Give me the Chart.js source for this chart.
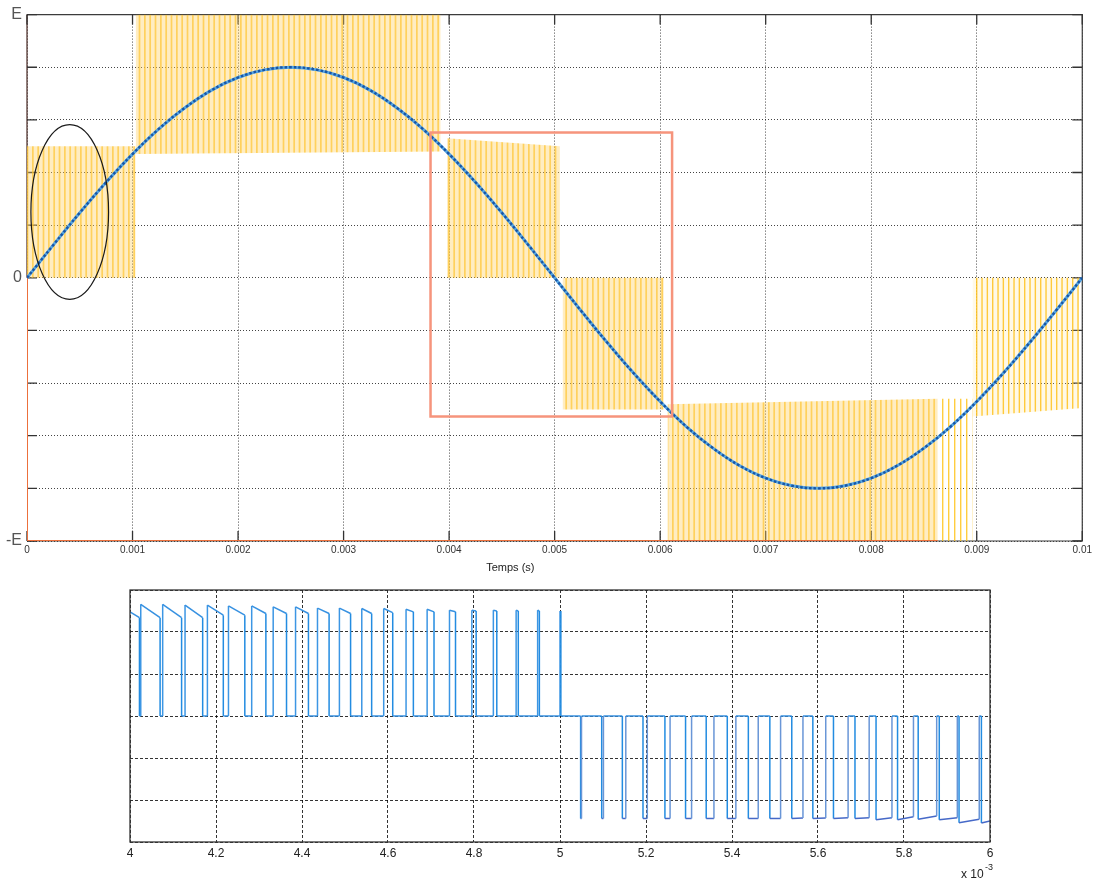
<!DOCTYPE html>
<html>
<head>
<meta charset="utf-8">
<script src="https://cdn.jsdelivr.net/npm/chart.js@4.4.1/dist/chart.umd.min.js"></script>
<style>
body { margin: 0; background: #fff; width: 1095px; height: 879px; position: relative; overflow: hidden; }
#topChart { position: absolute; left: 0; top: 0; }
#bottomChart { position: absolute; left: 0; top: 580px; }
</style>
</head>
<body>
<canvas id="topChart" width="1095" height="580"></canvas>
<canvas id="bottomChart" width="1095" height="299"></canvas>
<script>
// ---- top plot : sine reference and multilevel PWM (units of E) ----
var topXTicks = [0, 0.001, 0.002, 0.003, 0.004, 0.005, 0.006, 0.007, 0.008, 0.009, 0.01];
var topXLabels = ['0', '0.001', '0.002', '0.003', '0.004', '0.005', '0.006', '0.007', '0.008', '0.009', '0.01'];
var topYTicks = [-1, -0.8, -0.6, -0.4, -0.2, 0, 0.2, 0.4, 0.6, 0.8, 1];
var topYLabels = ['-E', '', '', '', '', '0', '', '', '', '', 'E'];

var sineT = [0, 0.00025, 0.0005, 0.00075, 0.001, 0.00125, 0.0015, 0.00175, 0.002, 0.00225,
  0.0025, 0.00275, 0.003, 0.00325, 0.0035, 0.00375, 0.004, 0.00425, 0.0045, 0.00475,
  0.005, 0.00525, 0.0055, 0.00575, 0.006, 0.00625, 0.0065, 0.00675, 0.007, 0.00725,
  0.0075, 0.00775, 0.008, 0.00825, 0.0085, 0.00875, 0.009, 0.00925, 0.0095, 0.00975, 0.01];
var sineV = [0, 0.125, 0.247, 0.363, 0.47, 0.566, 0.647, 0.713, 0.761, 0.79,
  0.8, 0.79, 0.761, 0.713, 0.647, 0.566, 0.47, 0.363, 0.247, 0.125,
  0, -0.125, -0.247, -0.363, -0.47, -0.566, -0.647, -0.713, -0.761, -0.79,
  -0.8, -0.79, -0.761, -0.713, -0.647, -0.566, -0.47, -0.363, -0.247, -0.125, 0];

// switching bands of the PWM: start/end time, low and high level at start (A) and end (B)
var bandStart = [0, 0.00103, 0.00398, 0.005075, 0.00607, 0.00863, 0.00896];
var bandEnd   = [0.00103, 0.00392, 0.00505, 0.006035, 0.00863, 0.00896, 0.00997];
var bandLowA  = [0, 0.47, 0, -0.5, -1, -1, -0.527];
var bandLowB  = [0, 0.48, 0, -0.5, -1, -1, -0.496];
var bandHighA = [0.5, 1, 0.53, 0, -0.48, -0.46, 0];
var bandHighB = [0.5, 1, 0.5, 0, -0.46, -0.46, 0];

// second leg trace sitting on -E
var legT = [0, 0, 0.00863];
var legV = [0, -1, -1];

// annotations (data units)
var ellipseC = [0.000405, 0.25];
var ellipseR = [0.000368, 0.332];
var boxX = [0.003824, 0.006113];
var boxY = [0.552, -0.527];

// ---- bottom plot : zoom 4..6 (x 10^-3) ----
var botXTicks = [4, 4.2, 4.4, 4.6, 4.8, 5, 5.2, 5.4, 5.6, 5.8, 6];
var botXLabels = ['4', '4.2', '4.4', '4.6', '4.8', '5', '5.2', '5.4', '5.6', '5.8', '6'];
var botYTicks = [-3, -2, -1, 0, 1, 2, 3];

var posRise = [4.0, 4.025, 4.076, 4.128, 4.180, 4.229, 4.283, 4.333, 4.385, 4.436, 4.487,
  4.539, 4.590, 4.642, 4.691, 4.743, 4.795, 4.845, 4.898, 4.948, 5.000];
var posFall = [4.022, 4.070, 4.120, 4.169, 4.217, 4.267, 4.316, 4.364, 4.415, 4.463, 4.513,
  4.562, 4.611, 4.659, 4.707, 4.757, 4.805, 4.853, 4.903, 4.952, 5.002];
var posTopA = [2.48, 2.66, 2.66, 2.64, 2.64, 2.62, 2.62, 2.60, 2.60, 2.57, 2.57,
  2.56, 2.56, 2.54, 2.54, 2.52, 2.52, 2.52, 2.52, 2.52, 2.50];
var posTopB = [2.34, 2.34, 2.34, 2.34, 2.40, 2.40, 2.44, 2.44, 2.44, 2.44, 2.44,
  2.44, 2.46, 2.48, 2.48, 2.48, 2.50, 2.50, 2.50, 2.50, 2.50];

var negFall = [5.048, 5.097, 5.145, 5.193, 5.244, 5.292, 5.340, 5.389, 5.438, 5.488,
  5.539, 5.588, 5.636, 5.686, 5.735, 5.785, 5.833, 5.882, 5.928, 5.980];
var negRise = [5.050, 5.101, 5.153, 5.203, 5.256, 5.306, 5.358, 5.409, 5.461, 5.513,
  5.565, 5.618, 5.670, 5.719, 5.772, 5.822, 5.876, 5.924, 5.975];
var negBotA = [-2.44, -2.44, -2.44, -2.44, -2.44, -2.44, -2.44, -2.44, -2.44, -2.44,
  -2.44, -2.44, -2.44, -2.44, -2.47, -2.47, -2.46, -2.47, -2.54, -2.55];
var negBotB = [-2.44, -2.44, -2.44, -2.44, -2.44, -2.44, -2.44, -2.44, -2.44, -2.44,
  -2.43, -2.43, -2.42, -2.42, -2.42, -2.40, -2.38, -2.42, -2.46, -2.50];

var FONT = '"Liberation Sans", Arial, sans-serif';

function stripes(period, count, w, bg, fg) {
  var c = document.createElement('canvas');
  c.width = Math.round(period * count);
  c.height = 8;
  var g = c.getContext('2d');
  if (bg) { g.fillStyle = bg; g.fillRect(0, 0, c.width, c.height); }
  g.fillStyle = fg;
  for (var k = 0; k < count; k++) g.fillRect(k * period, 0, w, c.height);
  return g.createPattern(c, 'repeat');
}

var densePat = stripes(5.33, 3, 1.7, 'rgba(255,208,95,0.38)', 'rgba(255,196,45,0.68)');
var sparsePat = stripes(6, 2, 1.4, null, 'rgba(255,196,30,0.85)');
var lightPat = stripes(5.33, 3, 1.4, 'rgba(255,215,110,0.16)', 'rgba(255,194,30,0.85)');

function xy(xs, ys) {
  return xs.map(function (x, i) { return { x: x, y: ys[i] }; });
}

var topDatasets = [
  { data: xy(sineT, sineV), borderColor: 'rgb(25,85,165)', borderWidth: 2.4, borderDash: [2.5, 2],
    tension: 0.4, pointRadius: 0, order: 0 },
  { data: xy(sineT, sineV), borderColor: 'rgb(85,165,225)', borderWidth: 3,
    tension: 0.4, pointRadius: 0, order: 1 },
  { data: xy(legT, legV), borderColor: 'rgb(236,112,60)', borderWidth: 2, pointRadius: 0, order: 2 }
];
for (var b = 0; b < bandStart.length; b++) {
  var pat = b === 5 ? sparsePat : (b === 6 ? lightPat : densePat);
  topDatasets.push({
    data: [{ x: bandStart[b], y: bandHighA[b] }, { x: bandEnd[b], y: bandHighB[b] }],
    borderColor: 'rgba(0,0,0,0)', borderWidth: 0, pointRadius: 0,
    fill: '+1', backgroundColor: pat, order: 3
  });
  topDatasets.push({
    data: [{ x: bandStart[b], y: bandLowA[b] }, { x: bandEnd[b], y: bandLowB[b] }],
    borderColor: 'rgba(0,0,0,0)', borderWidth: 0, pointRadius: 0, fill: false, order: 3
  });
}

var topDecor = {
  id: 'topDecor',
  beforeDatasetsDraw: function (chart) {
    var ctx = chart.ctx, a = chart.chartArea, xs = chart.scales.x, ys = chart.scales.y;
    ctx.save();
    ctx.lineWidth = 1.2;
    ctx.strokeStyle = '#3c3c3c';
    ctx.beginPath();
    ctx.moveTo(a.left, a.top); ctx.lineTo(a.right, a.top); ctx.lineTo(a.right, a.bottom); ctx.lineTo(a.left, a.bottom);
    ctx.stroke();
    ctx.strokeStyle = '#4a2a25';
    ctx.beginPath();
    ctx.moveTo(a.left, a.top); ctx.lineTo(a.left, ys.getPixelForValue(0));
    ctx.stroke();
    ctx.strokeStyle = '#333';
    ctx.lineWidth = 1.3;
    ctx.beginPath();
    topXTicks.forEach(function (v) {
      var px = xs.getPixelForValue(v);
      ctx.moveTo(px, a.bottom); ctx.lineTo(px, a.bottom - 10);
      ctx.moveTo(px, a.top); ctx.lineTo(px, a.top + 10);
    });
    topYTicks.forEach(function (v) {
      var py = ys.getPixelForValue(v);
      ctx.moveTo(a.left, py); ctx.lineTo(a.left + 10, py);
      ctx.moveTo(a.right, py); ctx.lineTo(a.right - 10, py);
    });
    ctx.stroke();
    ctx.restore();
  },
  afterDatasetsDraw: function (chart) {
    var ctx = chart.ctx, a = chart.chartArea, xs = chart.scales.x, ys = chart.scales.y;
    ctx.save();
    var cx = xs.getPixelForValue(ellipseC[0]), cy = ys.getPixelForValue(ellipseC[1]);
    var rx = xs.getPixelForValue(ellipseC[0] + ellipseR[0]) - cx;
    var ry = cy - ys.getPixelForValue(ellipseC[1] + ellipseR[1]);
    ctx.strokeStyle = '#1a1a1a';
    ctx.lineWidth = 1.2;
    ctx.beginPath();
    ctx.ellipse(cx, cy, rx, ry, 0, 0, Math.PI * 2);
    ctx.stroke();
    var x0 = xs.getPixelForValue(boxX[0]), x1 = xs.getPixelForValue(boxX[1]);
    var y0 = ys.getPixelForValue(boxY[0]), y1 = ys.getPixelForValue(boxY[1]);
    ctx.strokeStyle = 'rgb(246,148,124)';
    ctx.lineWidth = 2.5;
    ctx.strokeRect(x0, y0, x1 - x0, y1 - y0);
    ctx.fillStyle = '#222';
    ctx.font = '11px ' + FONT;
    ctx.textAlign = 'center';
    ctx.textBaseline = 'middle';
    ctx.fillText('Temps (s)', a.left + (a.right - a.left) * 0.458, 568);
    ctx.restore();
  }
};

new Chart(document.getElementById('topChart'), {
  type: 'line',
  data: { datasets: topDatasets },
  options: {
    responsive: false,
    animation: false,
    layout: { autoPadding: false, padding: { top: 12, right: 8, left: 0, bottom: 0 } },
    plugins: { legend: { display: false }, tooltip: { enabled: false } },
    scales: {
      x: {
        type: 'linear', min: 0, max: 0.01,
        afterBuildTicks: function (s) { s.ticks = topXTicks.map(function (v) { return { value: v }; }); },
        afterFit: function (s) { s.height = 39; },
        ticks: {
          autoSkip: false, maxRotation: 0, padding: 3, color: '#333',
          font: { family: FONT, size: 10 },
          callback: function (v, i) { return topXLabels[i]; }
        },
        grid: { color: 'rgba(35,35,35,0.85)', lineWidth: 1, drawTicks: false },
        border: { display: false, dash: [1, 2] }
      },
      y: {
        type: 'linear', min: -1, max: 1,
        afterBuildTicks: function (s) { s.ticks = topYTicks.map(function (v) { return { value: v }; }); },
        afterFit: function (s) { s.width = 27; },
        ticks: {
          autoSkip: false, padding: 5, color: '#555',
          font: { family: FONT, size: 16 },
          callback: function (v, i) { return topYLabels[i]; }
        },
        grid: { color: 'rgba(35,35,35,0.85)', lineWidth: 1, drawTicks: false },
        border: { display: false, dash: [1, 2] }
      }
    }
  },
  plugins: [topDecor]
});

// ---- bottom trace points ----
var botPts = [];
for (var i = 0; i < posRise.length; i++) {
  if (i > 0) botPts.push({ x: posRise[i], y: 0 });
  botPts.push({ x: posRise[i], y: posTopA[i] });
  botPts.push({ x: posFall[i], y: posTopB[i] });
  botPts.push({ x: posFall[i], y: 0 });
}
for (var j = 0; j < negFall.length; j++) {
  botPts.push({ x: negFall[j], y: 0 });
  botPts.push({ x: negFall[j], y: negBotA[j] });
  if (j < negRise.length) {
    botPts.push({ x: negRise[j], y: negBotB[j] });
    botPts.push({ x: negRise[j], y: 0 });
  } else {
    botPts.push({ x: 6, y: negBotB[j] });
  }
}

var botDecor = {
  id: 'botDecor',
  afterDraw: function (chart) {
    var ctx = chart.ctx, a = chart.chartArea;
    ctx.save();
    ctx.strokeStyle = '#333';
    ctx.lineWidth = 1.3;
    ctx.strokeRect(a.left, a.top, a.right - a.left, a.bottom - a.top);
    ctx.fillStyle = '#222';
    ctx.textBaseline = 'alphabetic';
    ctx.textAlign = 'left';
    ctx.font = '12px ' + FONT;
    ctx.fillText('x 10', a.right - 29, a.bottom + 36);
    ctx.font = '9px ' + FONT;
    ctx.fillText('-3', a.right - 5, a.bottom + 28);
    ctx.restore();
  }
};

new Chart(document.getElementById('bottomChart'), {
  type: 'line',
  data: {
    datasets: [{
      data: botPts,
      borderWidth: 1.5,
      borderColor: 'rgb(50,145,225)',
      pointRadius: 0,
      segment: {
        borderColor: function (c) {
          var y0 = c.p0.parsed.y, y1 = c.p1.parsed.y;
          if (c.p0.parsed.x === c.p1.parsed.x) {
            if (y1 < y0) return 'rgb(35,140,225)';
            return y0 < 0 ? 'rgb(105,150,215)' : 'rgb(60,150,228)';
          }
          if (y0 < -0.5) return 'rgb(70,105,200)';
          return 'rgb(55,145,225)';
        }
      }
    }]
  },
  options: {
    responsive: false,
    animation: false,
    layout: { autoPadding: false, padding: { top: 10, right: 105, left: 130, bottom: 0 } },
    plugins: { legend: { display: false }, tooltip: { enabled: false } },
    scales: {
      x: {
        type: 'linear', min: 4, max: 6,
        afterBuildTicks: function (s) { s.ticks = botXTicks.map(function (v) { return { value: v }; }); },
        afterFit: function (s) { s.height = 37; },
        ticks: {
          autoSkip: false, maxRotation: 0, padding: 4, color: '#222',
          font: { family: FONT, size: 12 },
          callback: function (v, i) { return botXLabels[i]; }
        },
        grid: { color: 'rgba(0,0,0,0.8)', lineWidth: 1, drawTicks: false },
        border: { display: false, dash: [3, 2] }
      },
      y: {
        type: 'linear', min: -3, max: 3,
        afterBuildTicks: function (s) { s.ticks = botYTicks.map(function (v) { return { value: v }; }); },
        afterFit: function (s) { s.width = 0; },
        ticks: { display: false },
        grid: { color: 'rgba(0,0,0,0.8)', lineWidth: 1, drawTicks: false },
        border: { display: false, dash: [3, 2] }
      }
    }
  },
  plugins: [botDecor]
});
</script>
</body>
</html>
